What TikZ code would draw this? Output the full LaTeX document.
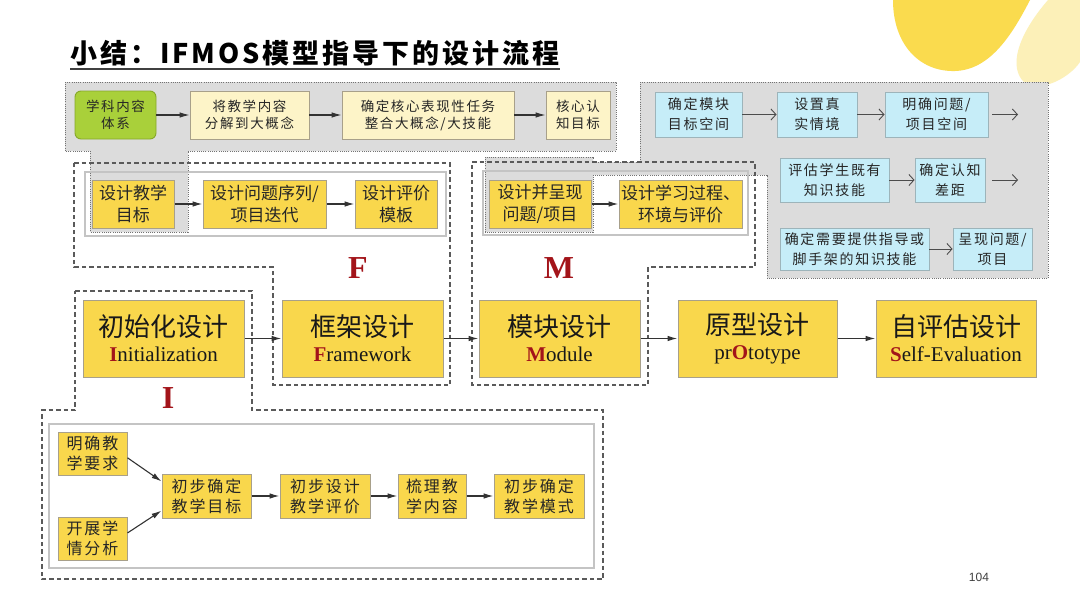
\documentclass[tikz,border=0pt]{standalone}
\usepackage{fontspec}
\setmainfont{Liberation Serif}
\newfontfamily\cjk{Noto Sans CJK SC}
\newfontfamily\cjksp[LetterSpace=12]{Noto Sans CJK SC}
\newfontfamily\cjktitle[LetterSpace=11]{Noto Sans CJK SC}
\newfontfamily\pagesans{Liberation Sans}
\usetikzlibrary{arrows.meta}
\definecolor{myyellow}{HTML}{F9D74C}
\definecolor{lightyel}{HTML}{FDF4C8}
\definecolor{mygreen}{HTML}{A9D03A}
\definecolor{greenbd}{HTML}{86A82A}
\definecolor{cyanbox}{HTML}{C6EDF8}
\definecolor{cyanbd}{HTML}{9DB4BA}
\definecolor{panelgrey}{HTML}{DCDCDC}
\definecolor{dred}{HTML}{A3141A}
\definecolor{boxbd}{HTML}{A8A08A}
\definecolor{framebd}{HTML}{C4C4C4}
\definecolor{dashgrey}{HTML}{5A5A5A}
\definecolor{arrowgrey}{HTML}{333333}
\definecolor{deco}{HTML}{FADB4E}
\definecolor{decolight}{HTML}{FCF0B8}
\begin{document}
\begin{tikzpicture}[x=1pt,y=-1pt,
  tlbox/.style={draw=boxbd, fill=lightyel, line width=0.9pt, align=center, inner sep=0pt,
    font=\cjksp\fontsize{13.5}{17}\selectfont, text=black!85},
  greenbox/.style={tlbox, fill=mygreen, draw=greenbd, rounded corners=6pt},
  rbox/.style={draw=cyanbd, fill=cyanbox, line width=0.9pt, align=center, inner sep=0pt,
    font=\cjksp\fontsize{14}{20}\selectfont, text=black!85},
  fmbox/.style={draw=boxbd, fill=myyellow, line width=1pt, align=center, inner sep=0pt,
    font=\cjk\fontsize{17}{22}\selectfont, text=black!85},
  ibox/.style={draw=boxbd, fill=myyellow, line width=1pt, align=center, inner sep=0pt,
    font=\cjksp\fontsize{16}{20}\selectfont, text=black!85},
  mainbox/.style={draw=boxbd, fill=myyellow, line width=1pt, align=center, inner sep=0pt,
    minimum width=161pt, minimum height=77pt, font=\fontsize{21}{25}\selectfont, text=black!90},
  arr/.style={-{Latex[length=10pt,width=5.5pt]}, line width=1.1pt, draw=arrowgrey},
  oarr/.style={-{Straight Barb[length=5pt,width=11pt]}, line width=0.9pt, draw=black!70},
  dashline/.style={draw=dashgrey, line width=1.1pt, dash pattern=on 4.5pt off 3pt},
  panel/.style={fill=panelgrey, draw=black!55, line width=0.8pt, dash pattern=on 1pt off 1.2pt},
  frame/.style={draw=framebd, line width=1.4pt},
  biglabel/.style={font=\bfseries\fontsize{32}{32}\selectfont, text=dred, inner sep=0pt}
]
\path[use as bounding box, fill=white] (0,0) rectangle (1080,608);

% decorations
\fill[decolight] (1048,0) .. controls (1022,30) and (1008,62) .. (1022,80) .. controls (1035,95) and (1068,80) .. (1080,62) -- (1080,0) -- cycle;
\fill[deco] (893,0) .. controls (893,45) and (920,72) .. (955,71) .. controls (990,70) and (1012,35) .. (1030,0) -- cycle;

% title
\node[anchor=base west, inner sep=0pt, font=\cjktitle\bfseries\fontsize{27}{30}\selectfont] (title) at (70,63) {小结：IFMOS模型指导下的设计流程};
\draw[line width=1.6pt, black!75] ([yshift=-3pt]title.south west) -- ([yshift=-3pt]title.south east);

% grey panels
\path[panel] (65,82) -- (616,82) -- (616,151) -- (188,151) -- (188,232) -- (90,232) -- (90,151) -- (65,151) -- cycle;
\path[panel] (640,82) -- (1048,82) -- (1048,278) -- (767,278) -- (767,175) -- (593,175) -- (593,232) -- (485,232) -- (485,157) -- (593,157) -- (593,162) -- (640,162) -- cycle;

% frames
\draw[frame] (85,172) rectangle (446,236);
\draw[frame] (483,171) rectangle (748,235);
\draw[frame] (49,424) rectangle (594,568);

% dashed outlines
\draw[dashline] (74,163) -- (450,163) -- (450,385) -- (273,385) -- (273,267) -- (74,267) -- cycle;
\draw[dashline] (472,162) -- (755,162) -- (755,267) -- (648,267) -- (648,385) -- (472,385) -- cycle;
\draw[dashline] (75,291) -- (252,291) -- (252,410) -- (603,410) -- (603,579) -- (42,579) -- (42,410) -- (75,410) -- cycle;

% labels
\node[biglabel] (labF) at (358,268) {F};
\node[biglabel] (labM) at (559,268) {M};
\node[biglabel] (labI) at (168,398) {I};

% top-left row
\node[greenbox, minimum width=81pt, minimum height=48pt] (g1) at (115.5,115) {学科内容\\体系};
\node[tlbox, minimum width=119pt, minimum height=48pt] (t2) at (249.5,115) {将教学内容\\分解到大概念};
\node[tlbox, minimum width=172pt, minimum height=48pt] (t3) at (428,115) {确定核心表现性任务\\整合大概念/大技能};
\node[tlbox, minimum width=64pt, minimum height=48pt] (t4) at (578,115) {核心认\\知目标};
\draw[arr] (g1) -- (t2);
\draw[arr] (t2) -- (t3);
\draw[arr] (t3) -- (t4);

% right panel
\node[rbox, minimum width=87pt, minimum height=45pt] (r1) at (698.5,114.5) {确定模块\\目标空间};
\node[rbox, minimum width=80pt, minimum height=45pt] (r2) at (817,114.5) {设置真\\实情境};
\node[rbox, minimum width=103pt, minimum height=45pt] (r3) at (936.5,114.5) {明确问题/\\项目空间};
\coordinate (ra) at (1018,114.5);
\node[rbox, minimum width=109pt, minimum height=44pt] (r4) at (834.5,180) {评估学生既有\\知识技能};
\node[rbox, minimum width=70pt, minimum height=44pt] (r5) at (950,180) {确定认知\\差距};
\coordinate (rb) at (1018,180);
\node[rbox, minimum width=149pt, minimum height=42pt] (r6) at (854.5,249) {确定需要提供指导或\\脚手架的知识技能};
\node[rbox, minimum width=79pt, minimum height=42pt] (r7) at (992.5,249) {呈现问题/\\项目};
\draw[oarr] (r1) -- (r2);
\draw[oarr] (r2) -- (r3);
\draw[oarr, shorten <=4pt] (r3) -- (ra);
\draw[oarr] (r4) -- (r5);
\draw[oarr, shorten <=7pt] (r5) -- (rb);
\draw[oarr] (r6) -- (r7);

% F row
\node[fmbox, minimum width=82pt, minimum height=48pt] (f1) at (133,204) {设计教学\\目标};
\node[fmbox, minimum width=123pt, minimum height=48pt] (f2) at (264.5,204) {设计问题序列/\\项目迭代};
\node[fmbox, minimum width=82pt, minimum height=48pt] (f3) at (396,204) {设计评价\\模板};
\draw[arr] (f1) -- (f2);
\draw[arr] (f2) -- (f3);

% M row
\node[fmbox, minimum width=102pt, minimum height=48pt] (m1) at (540,204) {设计并呈现\\问题/项目};
\node[fmbox, minimum width=123pt, minimum height=48pt] (m2) at (680.5,204) {设计学习过程、\\环境与评价};
\draw[arr] (m1) -- (m2);

% main row
\node[mainbox] (n1) at (163.5,338.5) {{\cjk\fontsize{26}{30}\selectfont 初始化设计}\\{\bfseries\color{dred}I}nitialization};
\node[mainbox] (n2) at (362.5,338.5) {{\cjk\fontsize{26}{30}\selectfont 框架设计}\\{\bfseries\color{dred}F}ramework};
\node[mainbox] (n3) at (559.5,338.5) {{\cjk\fontsize{26}{30}\selectfont 模块设计}\\{\bfseries\color{dred}M}odule};
\node[mainbox, minimum width=159pt] (n4) at (757.5,338.5) {{\cjk\fontsize{26}{30}\selectfont 原型设计}\\pr{\bfseries\color{dred}O}totype};
\node[mainbox, minimum width=160pt] (n5) at (956,338.5) {{\cjk\fontsize{26}{30}\selectfont 自评估设计}\\{\bfseries\color{dred}S}elf-Evaluation};
\draw[arr] (n1) -- (n2);
\draw[arr] (n2) -- (n3);
\draw[arr] (n3) -- (n4);
\draw[arr] (n4) -- (n5);

% I row
\node[ibox, minimum width=69pt, minimum height=43pt] (b1) at (92.5,453.5) {明确教\\学要求};
\node[ibox, minimum width=69pt, minimum height=43pt] (b2) at (92.5,538.5) {开展学\\情分析};
\node[ibox, minimum width=89pt, minimum height=44pt] (b3) at (206.5,496) {初步确定\\教学目标};
\node[ibox, minimum width=90pt, minimum height=44pt] (b4) at (325,496) {初步设计\\教学评价};
\node[ibox, minimum width=68pt, minimum height=44pt] (b5) at (432,496) {梳理教\\学内容};
\node[ibox, minimum width=90pt, minimum height=44pt] (b6) at (539,496) {初步确定\\教学模式};
\draw[arr] (b1.-7) -- (b3.162);
\draw[arr] (b2.9) -- (b3.198);
\draw[arr] (b3) -- (b4);
\draw[arr] (b4) -- (b5);
\draw[arr] (b5) -- (b6);

% page number
\node[font=\pagesans\fontsize{12}{12}\selectfont, text=black!75] (pg) at (979,577) {104};
\end{tikzpicture}
\end{document}
